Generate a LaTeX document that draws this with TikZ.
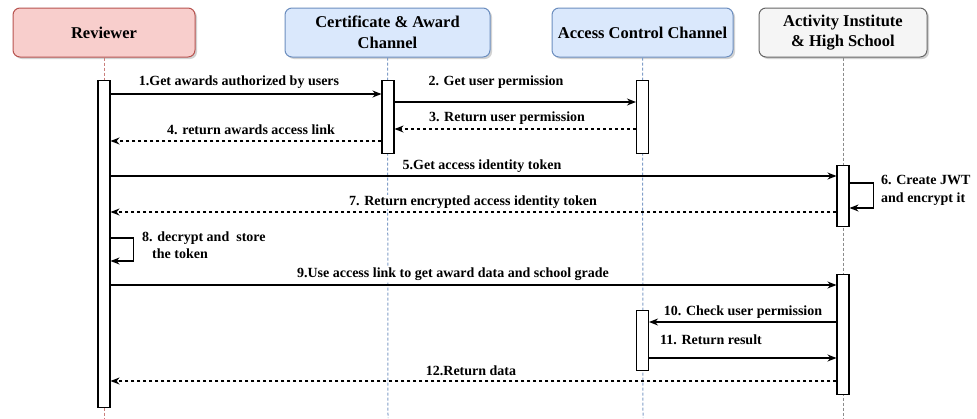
\documentclass[tikz,border=0pt]{standalone}
\usepackage{fontspec}
\setmainfont{Liberation Serif}
\usetikzlibrary{arrows.meta,shadows}
\definecolor{redfill}{HTML}{F8CECC}
\definecolor{redline}{HTML}{B85450}
\definecolor{bluefill}{HTML}{DAE8FC}
\definecolor{blueline}{HTML}{6C8EBF}
\definecolor{grayfill}{HTML}{F5F5F5}
\definecolor{grayline}{HTML}{666666}
\begin{document}
\begin{tikzpicture}[x=1pt,y=-1pt,
  hdr/.style={rounded corners=7pt, line width=1pt, minimum height=49pt, align=center,
    font=\fontsize{16.5}{20.5}\selectfont\bfseries,
    drop shadow={shadow xshift=2pt, shadow yshift=-2pt, opacity=0.35}},
  life/.style={line width=1pt, dash pattern=on 3pt off 2pt},
  actbar/.style={draw=black, fill=white, line width=1.1pt, minimum width=12pt, inner sep=0pt, anchor=north},
  msg/.style={line width=1.1pt, -{Stealth[length=9pt,width=7pt]}},
  ret/.style={msg, dash pattern=on 3pt off 3pt},
  lbl/.style={fill=white, inner sep=1pt, font=\fontsize{14}{17}\selectfont\bfseries}
]
\useasboundingbox (0,0) rectangle (977,418);
\fill[white] (0,0) rectangle (977,418);

% header boxes
\node[hdr, fill=redfill, draw=redline, minimum width=182pt] (rev) at (104,32.5) {Reviewer};
\node[hdr, fill=bluefill, draw=blueline, minimum width=205pt] (cert) at (387.5,32.5) {Certificate \& Award\\Channel};
\node[hdr, fill=bluefill, draw=blueline, minimum width=181pt] (acc) at (642.5,32.5) {Access Control Channel};
\node[hdr, fill=grayfill, draw=grayline, minimum width=168pt] (act) at (843,32.5) {Activity Institute\\\& High School};

% lifelines
\coordinate (revend) at (104,418);
\coordinate (certend) at (388,418);
\coordinate (accend) at (643,418);
\coordinate (actend) at (843,418);
\draw[life, draw=redline!75] (rev.south) -- (revend);
\draw[life, draw=blueline!85] (cert.south) -- (certend);
\draw[life, draw=blueline!85] (acc.south) -- (accend);
\draw[life, draw=grayline!75] (act.south) -- (actend);

% activation bars
\node[actbar, minimum height=327pt] (rb) at (104,80) {};
\node[actbar, minimum height=73pt] (cb) at (388,80) {};
\node[actbar, minimum height=73pt] (ab) at (642.5,80) {};
\node[actbar, minimum height=61pt] (tb1) at (843,165) {};
\node[actbar, minimum height=120pt] (tb2) at (843,274) {};
\node[actbar, minimum height=60pt] (ab2) at (642.5,310) {};

% messages
\draw[msg] (rb.east |- 0,94) -- (cb.west |- 0,94);
\node[lbl] (l1) at (239,82) {1.Get awards authorized by users};

\draw[msg] (cb.east |- 0,102) -- (ab.west |- 0,102);
\node[lbl] (l2) at (496,82) {2. Get user permission};

\draw[ret] (ab.west |- 0,129) -- (cb.east |- 0,129);
\node[lbl] (l3) at (507,118) {3. Return user permission};

\draw[ret] (cb.west |- 0,141) -- (rb.east |- 0,141);
\node[lbl] (l4) at (251,130) {4. return awards access link};

\draw[msg] (rb.east |- 0,176) -- (tb1.west |- 0,176);
\node[lbl] (l5) at (482,166) {5.Get access identity token};

\draw[msg] (tb1.east |- 0,183) -- ++(24,0) |- (tb1.east |- 0,208);
\node[lbl, align=left, anchor=west, font=\fontsize{14}{18}\selectfont\bfseries] (l6) at (880,190.5) {6. Create JWT\\and encrypt it};

\draw[ret] (tb1.west |- 0,212) -- (rb.east |- 0,212);
\node[lbl] (l7) at (473,202) {7. Return encrypted access identity token};

\draw[msg] (rb.east |- 0,238) -- ++(23,0) |- (rb.east |- 0,261);
\node[lbl, align=left, anchor=west, font=\fontsize{14}{17}\selectfont\bfseries] (l8) at (141,245) {8. decrypt and~~store\\\hspace*{10pt}the token};

\draw[msg] (rb.east |- 0,285) -- (tb2.west |- 0,285);
\node[lbl] (l9) at (453,274) {9.Use access link to get award data and school grade};

\draw[msg] (tb2.west |- 0,322) -- (ab2.east |- 0,322);
\node[lbl] (l10) at (743,312) {10. Check user permission};

\draw[msg] (ab2.east |- 0,358) -- (tb2.west |- 0,358);
\node[lbl] (l11) at (711,340) {11. Return result};

\draw[ret] (tb2.west |- 0,381) -- (rb.east |- 0,381);
\node[lbl] (l12) at (471,371) {12.Return data};
\end{tikzpicture}
\end{document}
